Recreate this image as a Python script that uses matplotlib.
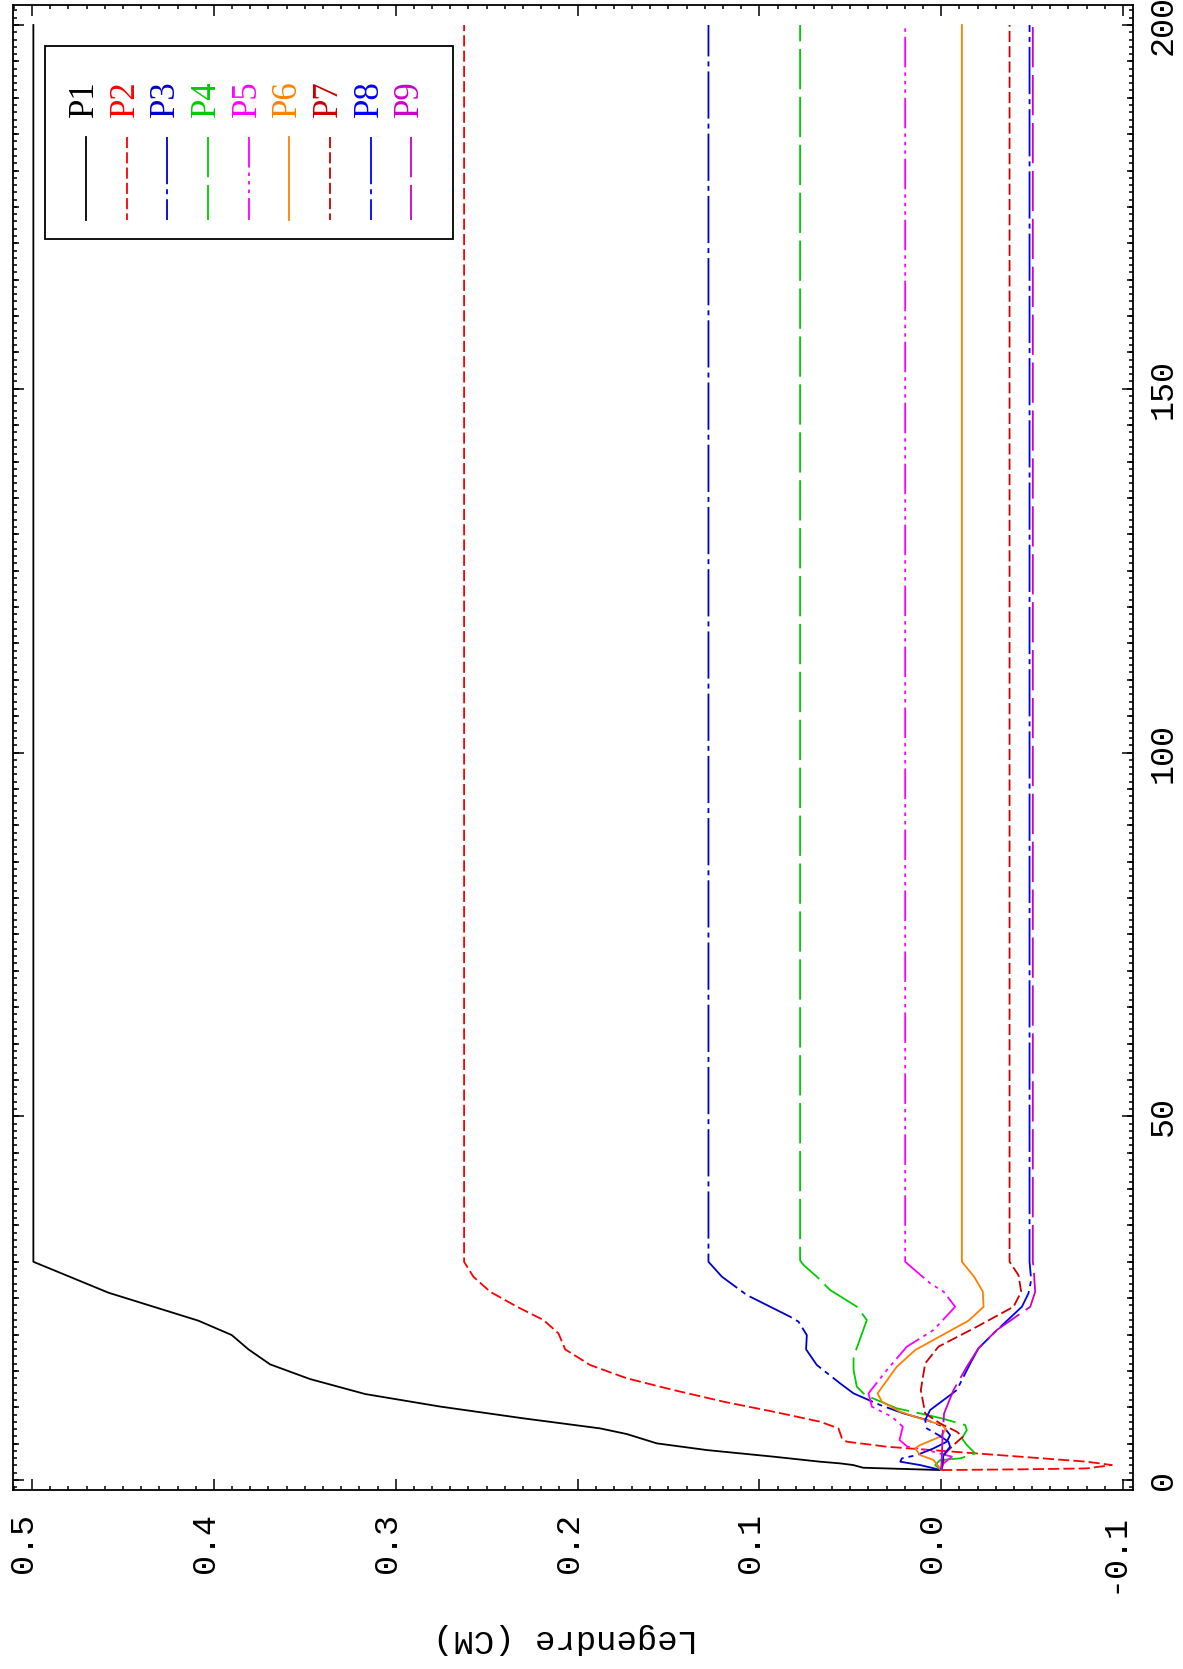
import matplotlib
matplotlib.use('Agg')
import matplotlib.pyplot as plt
import matplotlib.transforms as mtransforms
from matplotlib.lines import Line2D
from matplotlib.patches import Rectangle
from matplotlib.ticker import MultipleLocator, FixedLocator

plt.rcParams['lines.scale_dashes'] = False

### Data: x = abscissa (0..200), y = Legendre (CM)
p1_x = [1.37, 1.69, 2.06, 2.29, 2.52, 3.21, 4.12, 5.04, 6.32, 7.1, 8.48, 10.1, 11.82,
        13.88, 15.9, 17.96, 19.93, 21.9, 25.75, 30.0, 200]
p1_y = [0.0, 0.0429, 0.0484, 0.0556, 0.0666, 0.0922, 0.1289, 0.1564, 0.1729, 0.1876,
        0.2298, 0.2756, 0.3168, 0.3471, 0.3691, 0.3810, 0.3902, 0.4085, 0.4580, 0.4993, 0.4993]

p2_x = [1.37, 1.47, 1.6, 2.06, 2.52, 3.21, 4.03, 4.58, 5.27, 5.72, 7.1, 8.02, 9.39, 10.77,
        12.37, 13.98, 15.81, 17.96, 20.16, 21.99, 23.83, 25.89, 27.95, 30.0, 200]
p2_y = [0.0, -0.0435, -0.0801, -0.0939, -0.0801, -0.0435, 0.0006, 0.0299, 0.0519, 0.0546,
        0.0565, 0.0666, 0.0922, 0.1197, 0.1472, 0.1729, 0.1931, 0.2068, 0.2105, 0.2187,
        0.2334, 0.2481, 0.2573, 0.2624, 0.2624]

p3_x = [1.37, 2.06, 2.52, 2.98, 3.43, 4.35, 5.27, 6.18, 7.33, 8.25, 9.16, 10.31, 11.91,
        13.29, 15.81, 17.96, 19.93, 21.77, 22.45, 25.43, 27.95, 30.0, 200]
p3_y = [0.0, 0.0116, 0.0225, 0.0216, 0.0134, 0.0042, -0.0031, -0.0049, -0.0013, 0.0079,
        0.0207, 0.0336, 0.0482, 0.0556, 0.0684, 0.0743, 0.0739, 0.0785, 0.0831, 0.1069,
        0.1206, 0.128, 0.128]

p4_x = [1.37, 2.06, 2.75, 2.98, 3.66, 4.81, 5.72, 6.87, 7.56, 8.47, 9.16, 9.85, 11.68,
        12.83, 15.12, 16.95, 18.79, 22.0, 23.83, 26.12, 27.95, 29.55, 30.2, 200]
p4_y = [0.0, 0.0033, 0.0006, -0.0105, -0.0187, -0.0141, -0.0114, -0.0141, -0.0132, -0.0004,
        0.0116, 0.0244, 0.0418, 0.0464, 0.0482, 0.0482, 0.0455, 0.0409, 0.0464, 0.0611,
        0.0684, 0.0757, 0.0776, 0.0776]

p5_x = [1.37, 2.29, 3.21, 4.12, 4.58, 5.5, 7.33, 8.70, 10.08, 11.91, 15.12, 18.33, 20.62,
        23.82, 25.9, 27.03, 30.0, 200]
p5_y = [0.0, -0.0013, -0.0059, 0.0079, 0.0185, 0.0229, 0.0211, 0.0271, 0.0381, 0.0400,
        0.0299, 0.0189, 0.0042, -0.0077, -0.0013, 0.0060, 0.0198, 0.0198]

p6_x = [1.37, 2.75, 3.43, 4.35, 4.81, 5.95, 6.96, 7.56, 8.47, 9.39, 10.76, 11.91, 15.58,
        17.87, 21.9, 23.8, 25.9, 27.95, 30.0, 200]
p6_y = [0.0, 0.0042, 0.0116, 0.0143, 0.0116, 0.0006, -0.0027, -0.0004, 0.0116, 0.0226,
        0.0326, 0.0350, 0.0244, 0.0143, -0.0150, -0.0233, -0.0229, -0.0181, -0.0114, -0.0114]

p7_x = [1.37, 3.66, 4.81, 5.95, 6.64, 7.79, 9.16, 12.37, 16.03, 18.33, 21.07, 23.82,
        25.88, 28.17, 30.0, 200]
p7_y = [0.0, -0.0022, -0.0068, -0.0119, -0.0086, 0.0006, 0.0088, 0.0112, 0.0088, 0.0015,
        -0.0196, -0.0398, -0.0440, -0.0425, -0.0376, -0.0376]

p8_x = [1.37, 3.43, 4.58, 5.27, 6.18, 7.1, 8.25, 9.62, 11.0, 12.37, 16.03, 18.1, 20.16,
        23.82, 25.66, 27.49, 30.0, 200]
p8_y = [0.0, -0.0013, -0.0049, -0.0040, 0.0015, 0.0079, 0.0088, 0.0061, -0.0013, -0.0086,
        -0.0160, -0.0205, -0.0288, -0.0444, -0.0480, -0.0495, -0.0486, -0.0486]

p9_x = [1.37, 3.66, 6.87, 9.16, 12.37, 15.58, 18.1, 20.62, 23.82, 25.88, 29.32, 30.0, 200]
p9_y = [0.0, -0.0004, -0.0009, -0.0016, -0.0068, -0.0141, -0.0205, -0.0306, -0.0490,
        -0.0517, -0.0508, -0.0504, -0.0504]

names = ['P1', 'P2', 'P3', 'P4', 'P5', 'P6', 'P7', 'P8', 'P9']

xticks = [0, 50, 100, 150, 200]
xtick_labels = ['0', '50', '100', '150', '200']
yticks = [0.5, 0.4, 0.3, 0.2, 0.1, 0.0, -0.1]
ytick_labels = ['0.5', '0.4', '0.3', '0.2', '0.1', '0.0', '-0.1']

### Styles (IDL linestyles: solid, dashed, dash dot, long dash, dash dot dot dot)
solid = (None, None)
dashed = (0, (8, 3))
dashdot = (0, (34, 3.6, 3.6, 3.6))
longdash = (0, (29, 5.5))
dash3dot = (0, (22, 3.6, 2.5, 3.6, 2.5, 3.6, 2.5, 3.6))

series = [
    (p1_x, p1_y, 'black',   solid),
    (p2_x, p2_y, '#ff0000', dashed),
    (p3_x, p3_y, '#0000cc', dashdot),
    (p4_x, p4_y, '#00cc00', longdash),
    (p5_x, p5_y, '#ff00ff', dash3dot),
    (p6_x, p6_y, '#ff8000', solid),
    (p7_x, p7_y, '#cc0000', dashed),
    (p8_x, p8_y, '#0000ff', dashdot),
    (p9_x, p9_y, '#cc00cc', longdash),
]

W, H = 1183, 1669
fig = plt.figure(figsize=(W / 100, H / 100), dpi=100)
# landscape plot turned 90 deg: horizontal axis = Legendre value, vertical = abscissa
ax = fig.add_axes([13 / W, 1 - 1490 / H, (1133 - 13) / W, (1490 - 5) / H])

for xs, ys, col, ls in series:
    line, = ax.plot(ys, xs, color=col, lw=1.3)
    if ls[1] is not None:
        line.set_linestyle(ls)

ax.set_xlim(0.5105, -0.1055)
ax.set_ylim(-1.37, 202.75)

ax.xaxis.set_major_locator(FixedLocator(yticks))
ax.xaxis.set_minor_locator(MultipleLocator(0.01))
ax.yaxis.set_major_locator(FixedLocator(xticks))
ax.yaxis.set_minor_locator(MultipleLocator(1))
ax.tick_params(which='both', direction='in', top=True, right=True, width=1.1,
               labelbottom=False, labelleft=False)
ax.tick_params(which='major', length=8)
ax.tick_params(which='minor', length=2.6)
for sp in ax.spines.values():
    sp.set_linewidth(1.3)

# medium ticks every 5 on the abscissa axis
for side in ['left', 'right']:
    sec = ax.secondary_yaxis(side)
    sec.yaxis.set_major_locator(MultipleLocator(5))
    sec.yaxis.set_minor_locator(FixedLocator([]))
    sec.tick_params(direction='in', length=4.2, width=1.1,
                    labelleft=False, labelright=False)
    sec.spines[side].set_visible(False)

### Tick labels, rotated like the page
tb = mtransforms.blended_transform_factory(ax.transData, ax.transAxes)
tb = mtransforms.offset_copy(tb, fig=fig, x=0, y=-23, units='dots')
for v, s in zip(yticks, ytick_labels):
    ax.text(v, 0, s, transform=tb, rotation=90, rotation_mode='anchor',
            ha='right', va='baseline', fontsize=24, family='Liberation Mono', clip_on=False)

tr = mtransforms.blended_transform_factory(ax.transAxes, ax.transData)
tr = mtransforms.offset_copy(tr, fig=fig, x=39, y=0, units='dots')
for v, s in zip(xticks, xtick_labels):
    ax.text(1, v, s, transform=tr, rotation=90, rotation_mode='anchor',
            ha='center', va='baseline', fontsize=24, family='Liberation Mono', clip_on=False)

fig.text(566 / W, 1 - 1630 / H, 'Legendre (CM)', rotation=180, rotation_mode='anchor',
         ha='center', va='baseline', fontsize=24.5, family='Liberation Mono')

### Legend box
fig.add_artist(Rectangle((45 / W, 1 - 239 / H), 408 / W, 193 / H, fill=False,
                         lw=1.3, ec='black', transform=fig.transFigure))
for i, (name, (xs, ys, col, ls)) in enumerate(zip(names, series)):
    bx = 93 + i * 40.65
    fig.text(bx / W, 1 - 117 / H, name, rotation=90, rotation_mode='anchor',
             ha='left', va='baseline', color=col, fontsize=25, family='Liberation Serif')
    ln = Line2D([(bx - 7) / W] * 2, [1 - 137 / H, 1 - 220 / H], color=col, lw=1.3,
                transform=fig.transFigure)
    if ls[1] is not None:
        ln.set_linestyle(ls)
    fig.add_artist(ln)

fig.savefig('out.png', dpi=100)
